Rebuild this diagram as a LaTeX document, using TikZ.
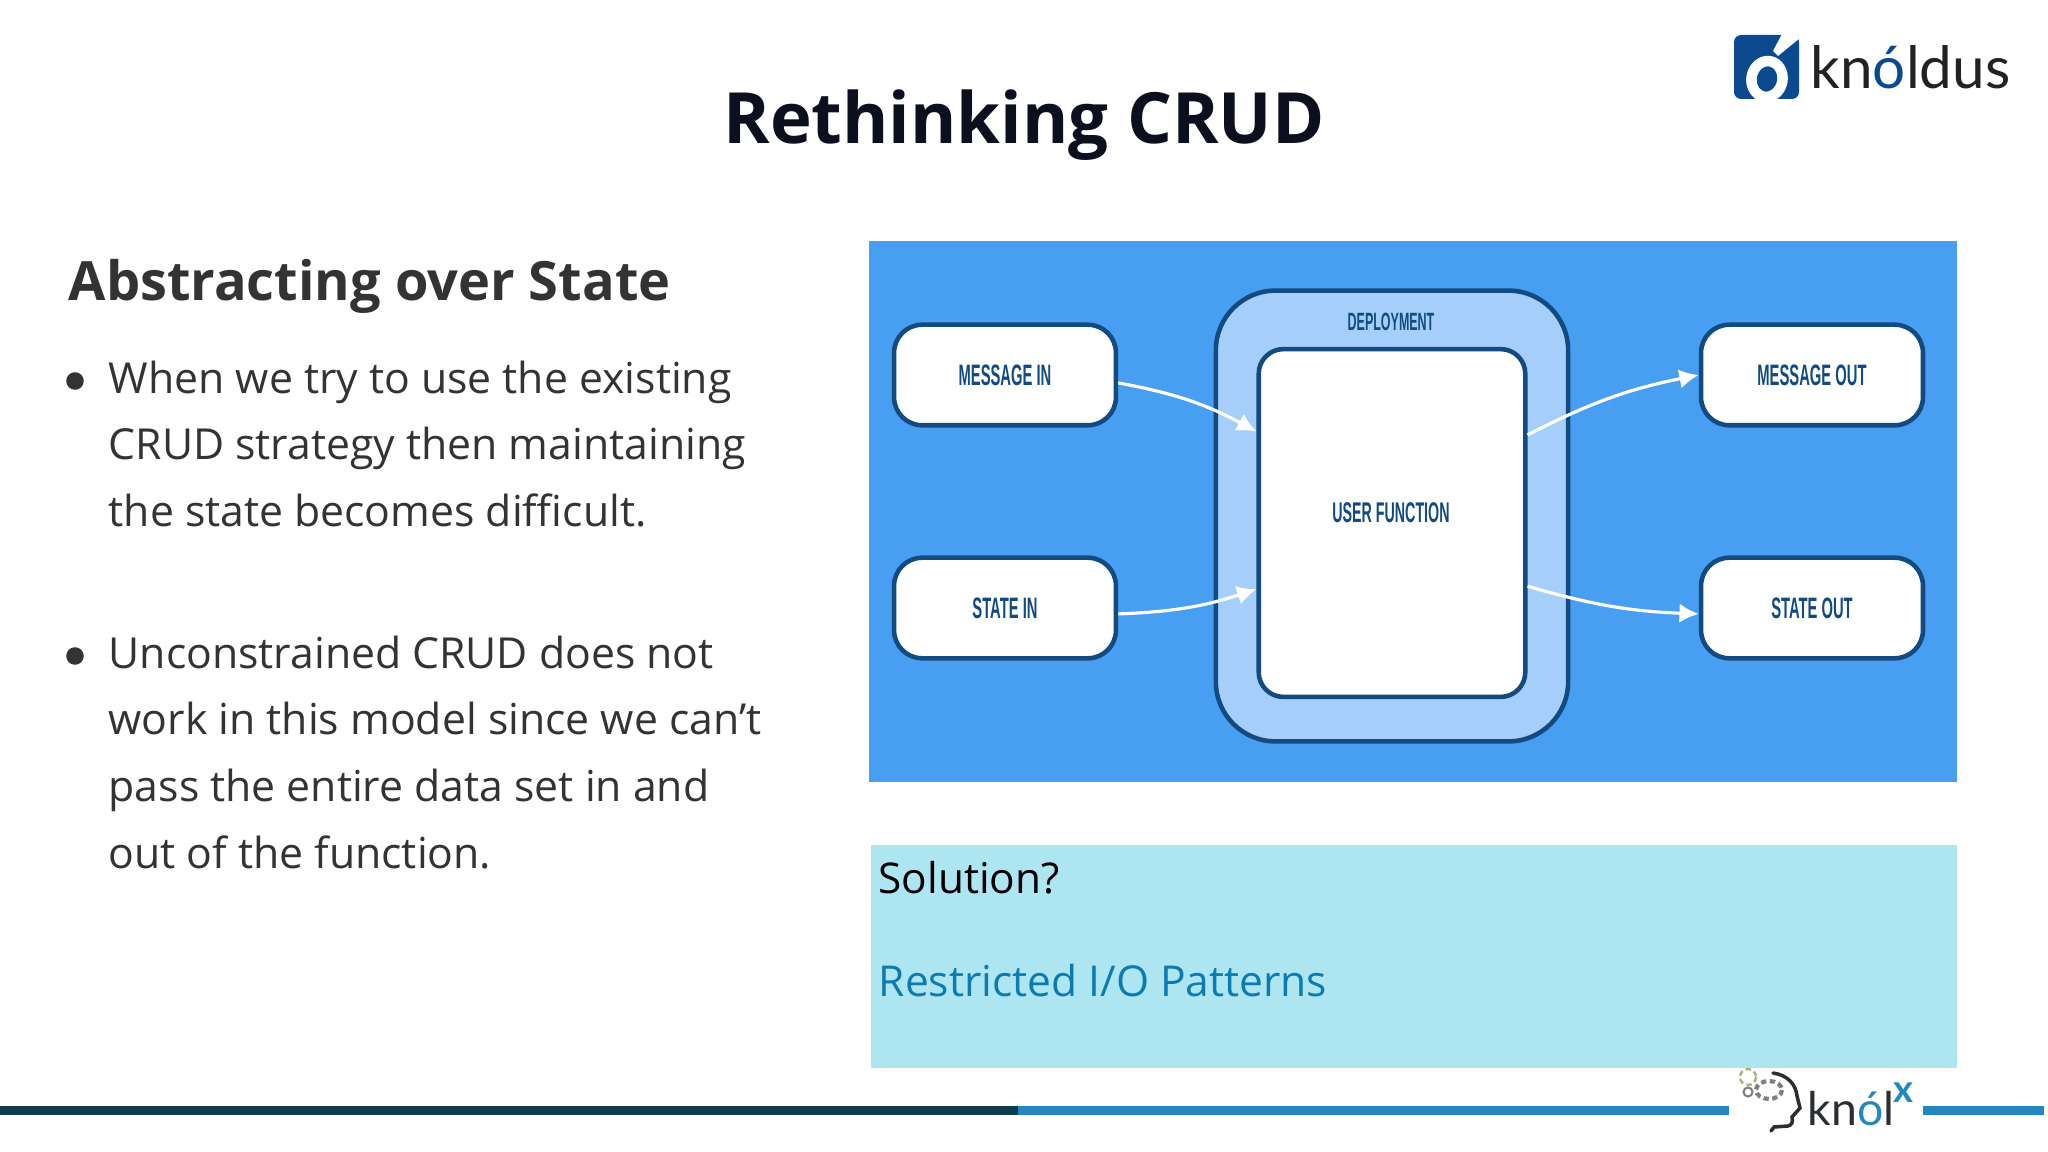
\documentclass[tikz,border=0pt]{standalone}
\usepackage{fontspec}
\usetikzlibrary{arrows.meta}
\setmainfont{Open Sans}
\newfontfamily\condfont[FakeStretch=0.5]{Liberation Sans}
\newfontfamily\logofont{Lato}
\definecolor{panelblue}{HTML}{489FF2}
\definecolor{palerblue}{HTML}{A5CFFA}
\definecolor{edgeblue}{HTML}{134A7F}
\definecolor{bodygrey}{HTML}{333333}
\definecolor{titleink}{HTML}{0B0F1E}
\definecolor{solutionbg}{HTML}{ADE5F1}
\definecolor{solutionink}{HTML}{0E7BB0}
\definecolor{bardark}{HTML}{0F3B4F}
\definecolor{barblue}{HTML}{2488BE}
\definecolor{logoblue}{HTML}{0B4A8F}
\definecolor{logoink}{HTML}{222222}
\definecolor{headink}{HTML}{2B2F33}
\tikzset{
  paragraph/.style={anchor=north west,align=left,inner sep=0pt,text=bodygrey,
    font=\fontsize{12.15pt}{18.95pt}\selectfont},
  bulletdot/.style={circle,fill=bodygrey,inner sep=0pt,minimum size=5pt},
  ioBox/.style={draw=edgeblue,line width=1.3pt,fill=white,rounded corners=8pt,
    minimum width=63.1pt,minimum height=28.6pt,inner sep=0pt,text=edgeblue,
    font=\condfont\bfseries\fontsize{8.4pt}{10pt}\selectfont},
  boxText/.style={inner sep=0pt,text=edgeblue,font=\condfont\bfseries\fontsize{8.1pt}{10pt}\selectfont},
}
\begin{document}
\begin{tikzpicture}[x=0.01cm,y=-0.01cm]

      \useasboundingbox (0,0) rectangle (2048,1152);
      \fill[white] (0,0) rectangle (2048,1152);

      % title and left column
      \node[inner sep=0pt,text=titleink,font=\bfseries\fontsize{20.1pt}{24pt}\selectfont] (title) at (1024,125) {Rethinking CRUD};
      \node[anchor=west,inner sep=0pt,text=bodygrey,font=\bfseries\fontsize{15.4pt}{18pt}\selectfont] (heading) at (68,286) {Abstracting over State};

      \node[bulletdot] (dot1) at (75,381) {};
      \node[bulletdot] (dot2) at (75,656) {};
      \node[paragraph] (para1) at (108,360) {When we try to use the existing\\CRUD strategy then maintaining\\the state becomes difficult.};
      \node[paragraph] (para2) at (108,635) {Unconstrained CRUD does not\\work in this model since we can’t\\pass the entire data set in and\\out of the function.};

      % diagram panel
      \fill[panelblue] (869,241) rectangle (1957,782);

      \node[draw=edgeblue,line width=1.3pt,fill=palerblue,rounded corners=17pt,minimum width=100.2pt,minimum height=128.2pt] (deploy) at (1392,516) {};
      \node[draw=edgeblue,line width=1.3pt,fill=white,rounded corners=7pt,minimum width=75.8pt,minimum height=98.9pt] (userfn) at (1392,523) {};
      \node[boxText,font=\condfont\bfseries\fontsize{7.1pt}{9pt}\selectfont] (deploylabel) at (1391,322) {DEPLOYMENT};
      \node[boxText] (userfnlabel) at (1391,513) {USER FUNCTION};

      \begin{scope}[every node/.style={ioBox}]
        \node (msgin)  at (1005,375) {MESSAGE IN};
        \node (statein)  at (1005,608) {STATE IN};
        \node (msgout) at (1812,375) {MESSAGE OUT};
        \node (stateout) at (1812,608) {STATE OUT};
      \end{scope}

      \begin{scope}[every edge/.style={draw=white,line width=.9pt,-{Latex[length=5.5pt,width=5.5pt]}}]
        \path (msgin.-4)   edge[bend left=9]  (userfn.146);
        \path (statein.-3) edge[bend right=8] (userfn.206);
        \path (userfn.33)  edge[bend left=8]  (msgout.west);
        \path (userfn.-25) edge[bend right=7] (stateout.183);
      \end{scope}

      % solution panel
      \fill[solutionbg] (871,845) rectangle (1957,1068);
      \node[anchor=west,inner sep=0pt,text=black,font=\fontsize{12.05pt}{15pt}\selectfont] (solution) at (878,878) {Solution?};
      \node[anchor=west,inner sep=0pt,text=solutionink,font=\fontsize{12.1pt}{15pt}\selectfont] (patterns) at (878,981) {Restricted I/O Patterns};

      % bottom bar
      \fill[bardark] (0,1106) rectangle (1018,1115);
      \fill[barblue] (1018,1106) rectangle (2044,1115);
      \fill[white] (1729,1068) rectangle (1923,1143);

      % knoldus logo
      \fill[logoblue,rounded corners=2pt] (1734,35) rectangle (1799,99);
      \draw[white,line width=3pt,rotate around={-10:(1767,79)}] (1767,79) ellipse (15.5 and 18);
      \fill[white] (1782,34) -- (1800,34) -- (1800,38) -- (1778,56) -- (1773,51) -- cycle;
      \node[anchor=base west,inner sep=0pt,text=logoink,font=\logofont\fontsize{16.6pt}{18pt}\selectfont] (knoldus) at (1810,89) {kn\textcolor{logoblue}{ó}ldus};

      % knolx logo
      \draw[dash pattern=on 1.5pt off 1pt,line width=.7pt,color=gray!70!yellow] (1748,1077) circle (8);
      \draw[line width=.6pt,color=gray] (1748,1092) circle (4.5);
      \draw[dash pattern=on 1.5pt off 1pt,line width=1.2pt,color=gray] (1769,1090) ellipse (13 and 9);
      \draw[headink,line width=1pt,line cap=round] (1773,1073) .. controls (1788,1075) and (1796,1085) .. (1797,1096) -- (1800,1108) -- (1792,1117) .. controls (1793,1122) and (1792,1125) .. (1788,1126) -- (1774,1127) -- (1771,1131);
      \node[anchor=base west,inner sep=0pt,text=headink,font=\logofont\fontsize{13.2pt}{15pt}\selectfont] (knol) at (1807,1125) {kn\textcolor{barblue}{ó}l};
      \node[anchor=base west,inner sep=0pt,text=barblue,font=\logofont\bfseries\fontsize{10.9pt}{12pt}\selectfont] (knolx) at (1893,1102) {x};

    \end{tikzpicture}
\end{document}
